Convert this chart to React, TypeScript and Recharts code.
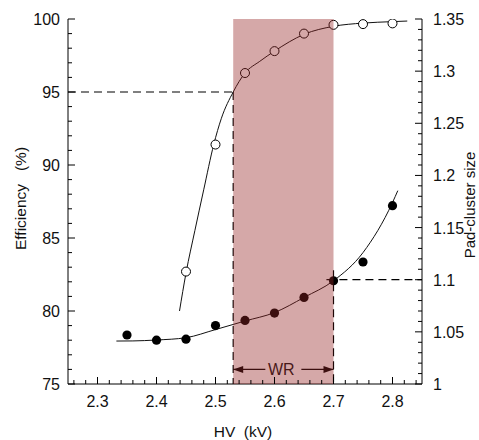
import {
  ComposedChart,
  Line,
  Scatter,
  XAxis,
  YAxis,
  ReferenceArea,
  ReferenceLine,
} from "recharts"

const font = "'Liberation Sans', Arial, Helvetica, sans-serif"

// pad-cluster size (filled dots, right axis)
const hv = [2.35, 2.4, 2.45, 2.5, 2.55, 2.6, 2.65, 2.7, 2.75, 2.8]
const clusterSize = [1.047, 1.042, 1.043, 1.056, 1.061, 1.068, 1.083, 1.099, 1.117, 1.171]

// efficiency (open dots, left axis)
const effHv = [2.45, 2.5, 2.55, 2.6, 2.65, 2.7, 2.75, 2.8]
const efficiency = [82.7, 91.4, 96.3, 97.8, 99.0, 99.6, 99.65, 99.7]

// fitted curves
const effFitHv = [2.439, 2.45, 2.465, 2.48, 2.497, 2.51, 2.53, 2.55, 2.575, 2.6, 2.65, 2.7, 2.75, 2.8, 2.825]
const effFit = [80.0, 82.6, 85.5, 88.3, 91.4, 93.2, 95.0, 96.3, 97.1, 97.8, 98.95, 99.5, 99.72, 99.82, 99.86]

const clusterFitHv = [2.332, 2.36, 2.4, 2.45, 2.5, 2.55, 2.6, 2.65, 2.7, 2.75, 2.8, 2.809]
const clusterFit = [1.0412, 1.0413, 1.0422, 1.0444, 1.0522, 1.0604, 1.0685, 1.083, 1.099, 1.126, 1.174, 1.1854]

// working range
const wrStart = 2.53
const wrEnd = 2.7

const xMajorTicks = [2.3, 2.4, 2.5, 2.6, 2.7, 2.8]
const effMajorTicks = [75, 80, 85, 90, 95, 100]
const clusterMajorTicks = [1, 1.05, 1.1, 1.15, 1.2, 1.25, 1.3, 1.35]

const steps = (start: number, end: number, step: number) => {
  const out: number[] = []
  const n = Math.round((end - start) / step)
  for (let i = 0; i <= n; i++) out.push(Math.round((start + i * step) * 1000) / 1000)
  return out
}

const xTicks = steps(2.26, 2.84, 0.02)
const effTicks = steps(75, 100, 1)
const clusterTicks = steps(1, 1.35, 0.01)

const isMajor = (v: number, majors: number[]) => majors.some((m) => Math.abs(m - v) < 1e-6)

const clusterData = hv.map((x, i) => ({ x, y: clusterSize[i] }))
const effData = effHv.map((x, i) => ({ x, y: efficiency[i] }))
const effFitData = effFitHv.map((x, i) => ({ x, y: effFit[i] }))
const clusterFitData = clusterFitHv.map((x, i) => ({ x, y: clusterFit[i] }))

const textProps = { fontSize: 16, fill: "#111", fontFamily: font }

function BottomTick({ x, y, payload }: any) {
  const major = isMajor(payload.value, xMajorTicks)
  return (
    <g>
      <line x1={x} x2={x} y1={y} y2={y - (major ? 7 : 4)} stroke="#000" />
      {major && (
        <text x={x} y={y + 23} textAnchor="middle" {...textProps}>
          {payload.value.toFixed(1)}
        </text>
      )}
    </g>
  )
}

function TopTick({ x, y, payload }: any) {
  const major = isMajor(payload.value, xMajorTicks)
  return <line x1={x} x2={x} y1={y} y2={y + (major ? 7 : 4)} stroke="#000" />
}

function LeftTick({ x, y, payload }: any) {
  const major = isMajor(payload.value, effMajorTicks)
  return (
    <g>
      <line x1={x} x2={x + (major ? 7 : 4)} y1={y} y2={y} stroke="#000" />
      {major && (
        <text x={x - 8} y={y + 6} textAnchor="end" {...textProps}>
          {payload.value}
        </text>
      )}
    </g>
  )
}

function RightTick({ x, y, payload }: any) {
  const major = isMajor(payload.value, clusterMajorTicks)
  return (
    <g>
      <line x1={x} x2={x - (major ? 7 : 4)} y1={y} y2={y} stroke="#000" />
      {major && (
        <text x={x + 11} y={y + 6} textAnchor="start" {...textProps}>
          {String(payload.value)}
        </text>
      )}
    </g>
  )
}

function WrArrow({ x1, y1, x2 }: any) {
  const mid = (x1 + x2) / 2
  const gap = 18
  return (
    <g>
      <line x1={x1} x2={mid - gap} y1={y1} y2={y1} stroke="#000" strokeWidth={1.3} />
      <line x1={mid + gap} x2={x2} y1={y1} y2={y1} stroke="#000" strokeWidth={1.3} />
      <polygon points={`${x1},${y1} ${x1 + 10},${y1 - 3.5} ${x1 + 10},${y1 + 3.5}`} fill="#000" />
      <polygon points={`${x2},${y1} ${x2 - 10},${y1 - 3.5} ${x2 - 10},${y1 + 3.5}`} fill="#000" />
      <text x={mid - 2} y={y1 + 6} textAnchor="middle" {...textProps}>
        WR
      </text>
    </g>
  )
}

const openDot = (p: any) => <circle cx={p.cx} cy={p.cy} r={4.5} fill="#fff" stroke="#000" strokeWidth={1} />
const filledDot = (p: any) => <circle cx={p.cx} cy={p.cy} r={4.6} fill="#000" />

export default function App() {
  return (
    <div style={{ position: "absolute", left: 0, top: 0, background: "#fff" }}>
      <ComposedChart width={479} height={440} margin={{ top: 19, right: 0, bottom: 0, left: 0 }}>
        <XAxis
          xAxisId="b"
          dataKey="x"
          type="number"
          domain={[2.25, 2.85]}
          allowDataOverflow
          ticks={xTicks}
          interval={0}
          tickSize={0}
          tickMargin={0}
          tickLine={false}
          tick={<BottomTick />}
          height={56}
          axisLine={{ stroke: "#000" }}
          label={({ viewBox }: any) => (
            <text
              x={viewBox.x + viewBox.width / 2 - 2}
              y={viewBox.y + 53}
              textAnchor="middle"
              fontSize={15.5}
              fill="#111"
              fontFamily={font}
            >
              {"HV\u00a0\u00a0(kV)"}
            </text>
          )}
        />
        <XAxis
          xAxisId="t"
          orientation="top"
          dataKey="x"
          type="number"
          domain={[2.25, 2.85]}
          allowDataOverflow
          ticks={xTicks}
          interval={0}
          tickSize={0}
          tickMargin={0}
          tickLine={false}
          tick={<TopTick />}
          height={0}
          axisLine={{ stroke: "#000" }}
        />
        <YAxis
          yAxisId="l"
          dataKey="y"
          type="number"
          domain={[75, 100]}
          allowDataOverflow
          ticks={effTicks}
          interval={0}
          tickSize={0}
          tickMargin={0}
          tickLine={false}
          tick={<LeftTick />}
          width={68}
          axisLine={{ stroke: "#000" }}
          label={({ viewBox }: any) => (
            <text
              transform={`translate(${viewBox.x + 26}, ${viewBox.y + viewBox.height / 2 - 3}) rotate(-90)`}
              textAnchor="middle"
              fontSize={15.5}
              fill="#111"
              fontFamily={font}
            >
              {"Efficiency\u00a0\u00a0\u00a0(%)"}
            </text>
          )}
        />
        <YAxis
          yAxisId="r"
          orientation="right"
          dataKey="y"
          type="number"
          domain={[1, 1.35]}
          allowDataOverflow
          ticks={clusterTicks}
          interval={0}
          tickSize={0}
          tickMargin={0}
          tickLine={false}
          tick={<RightTick />}
          width={57}
          axisLine={{ stroke: "#000" }}
          label={({ viewBox }: any) => (
            <text
              transform={`translate(${viewBox.x + 53}, ${viewBox.y + viewBox.height / 2 + 3.5}) rotate(-90)`}
              textAnchor="middle"
              fontSize={15}
              fill="#111"
              fontFamily={font}
            >
              Pad-cluster size
            </text>
          )}
        />

        <ReferenceLine
          xAxisId="b"
          yAxisId="l"
          segment={[{ x: 2.25, y: 95 }, { x: wrStart, y: 95 }]}
          stroke="#000"
          strokeWidth={1.2}
          strokeDasharray="8 5"
        />
        <ReferenceLine
          xAxisId="b"
          yAxisId="l"
          segment={[{ x: wrStart, y: 95 }, { x: wrStart, y: 75 }]}
          stroke="#000"
          strokeWidth={1.2}
          strokeDasharray="8 5"
        />
        <ReferenceLine
          xAxisId="b"
          yAxisId="r"
          segment={[{ x: 2.688, y: 1.1 }, { x: 2.85, y: 1.1 }]}
          stroke="#000"
          strokeWidth={1.2}
          strokeDasharray="8 5"
        />
        <ReferenceLine
          xAxisId="b"
          yAxisId="r"
          segment={[{ x: wrEnd, y: 1.109 }, { x: wrEnd, y: 1 }]}
          stroke="#000"
          strokeWidth={1.2}
          strokeDasharray="8 5"
        />
        <ReferenceLine
          xAxisId="b"
          yAxisId="l"
          segment={[{ x: wrStart, y: 76.0 }, { x: wrEnd, y: 76.0 }]}
          shape={(p: any) => <WrArrow {...p} />}
        />

        <Line
          data={effFitData}
          xAxisId="b"
          yAxisId="l"
          dataKey="y"
          type="monotone"
          stroke="#111"
          strokeWidth={1}
          dot={false}
          activeDot={false}
          isAnimationActive={false}
        />
        <Line
          data={clusterFitData}
          xAxisId="b"
          yAxisId="r"
          dataKey="y"
          type="monotone"
          stroke="#111"
          strokeWidth={1}
          dot={false}
          activeDot={false}
          isAnimationActive={false}
        />
        <Scatter
          data={effData}
          xAxisId="b"
          yAxisId="l"
          dataKey="y"
          shape={openDot}
          isAnimationActive={false}
        />
        <Scatter
          data={clusterData}
          xAxisId="b"
          yAxisId="r"
          dataKey="y"
          shape={filledDot}
          isAnimationActive={false}
        />

        <ReferenceArea
          xAxisId="b"
          yAxisId="l"
          x1={wrStart}
          x2={wrEnd}
          y1={75}
          y2={100}
          fill="#962525"
          fillOpacity={0.4}
          stroke="none"
          ifOverflow="visible"
          zIndex={1000}
        />
      </ComposedChart>
    </div>
  )
}
